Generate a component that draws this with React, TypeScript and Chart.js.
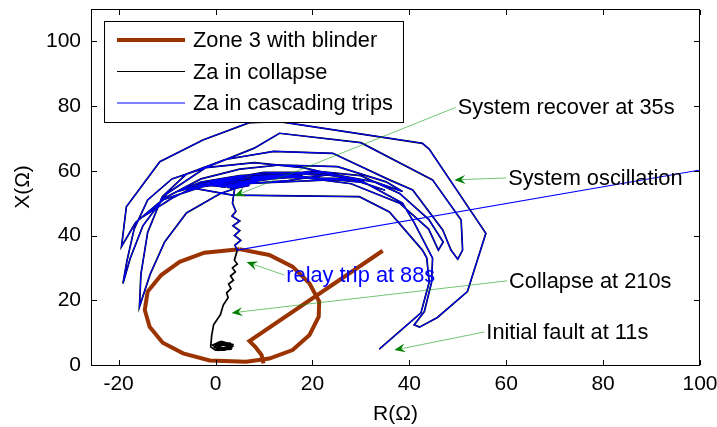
import React, { useEffect, useRef } from "react";
import { Chart, registerables } from "chart.js";

Chart.register(...registerables);

const FONT = '"Liberation Sans", Arial, Helvetica, sans-serif';
const BROWN = "#9a3300";
const BLUE = "#0000ff";
const GREEN = "#008000";

// axes
const xRange = [-25.7, 100];
const yRange = [0, 110];
const xTicks = [-20, 0, 20, 40, 60, 80, 100];
const yTicks = [0, 20, 40, 60, 80, 100];
const xTitle = "R(Ω)";
const yTitle = "X(Ω)";

// Zone 3 mho characteristic (polygon vertices) and blinder
const zoneCircle: number[][] = [
  [4.9, 35.8], [11.1, 34.0], [15.9, 30.4], [19.4, 25.2], [21.4, 19.6], [21.3, 14.9],
  [19.4, 9.3], [15.9, 4.6], [11.1, 2.0], [6.3, 1.0], [-1.2, 1.4], [-6.7, 3.6],
  [-10.9, 6.9], [-13.6, 11.8], [-14.6, 17.0], [-14.0, 22.7], [-11.2, 27.8],
  [-7.4, 31.9], [-2.3, 34.7], [4.9, 35.8],
];
const zoneBlinder: number[][] = [
  [34.5, 35.3], [7.0, 7.4], [8.2, 5.6], [9.5, 3.1], [9.9, 0.5],
];

// impedance trajectory shared by both cases
const swingFirst: number[][] = [
  [33.8, 4.9], [42.4, 16.1], [44.1, 25.6], [43.6, 33.1], [42.7, 35.5], [35.9, 47.3],
  [29.7, 52.0], [3.5, 52.5], [-4, 54.5], [-11, 51], [-16.5, 44], [-19.4, 36.6],
];
const swingOuter: number[][] = [
  [-18.4, 48.9], [-11.5, 62.8], [-2.6, 69.5], [7.0, 74.9], [13.2, 75.2], [42.7, 68.5],
  [44.1, 66.7], [55.8, 40.7], [52.0, 22.7], [45.8, 14.7], [42.1, 11.7], [41.0, 12.4],
  [43.1, 16.5], [44.6, 25.6], [44.8, 33.0],
];
const swingSecond: number[][] = [
  [41.0, 44], [38.6, 50], [30, 57], [18, 61], [8, 62.5], [-2, 61], [-9, 57.5],
  [-14, 51], [-16.8, 42], [-18.3, 32], [-19.1, 25.2],
  [-17.6, 33], [-15, 43], [-10, 53], [-2, 61], [8, 67], [13.2, 71.6], [30.0, 68.7],
  [44.8, 57.2], [50.7, 44.8], [51.0, 35.5], [50.0, 32.7],
];
const swingThird: number[][] = [
  [48.6, 35.5], [46.9, 41.7], [40.7, 54.1], [35.9, 57.2], [24.2, 65.4], [12, 66],
  [2, 63.5], [-6, 59], [-11, 52], [-14, 41], [-15.4, 28], [-15.7, 18.0],
  [-13.5, 28], [-10.5, 38], [-6, 47], [1, 53], [10, 57.5], [20, 60], [30, 58.5],
  [38, 53], [44, 45], [47, 38], [46, 35.5],
];
const swingFourth: number[][] = [
  [44, 42], [38, 50], [28, 56], [15, 58.5], [5, 58], [-3, 56], [-9, 51.5], [-15, 45.8],
  [-10, 52], [-3, 57.5], [5, 60.5], [13.2, 61.8], [25.2, 61.3], [35.2, 56.6], [38.6, 53.6],
  [33, 56.5], [22, 59.5], [10, 59.5], [0, 57], [-7.8, 53.6],
  [-3, 56.5], [5, 58.5], [15, 59.5], [22, 58.5], [15, 57], [6, 56],
];
const swingDecay: number[][] = [
  [28, 57.5], [35, 54], [30, 56.5], [18, 58.2], [8, 57.2], [-2, 55.5], [-6, 53.5],
  [-2, 56], [8, 58.3], [20, 59.4], [30, 57.2], [26, 57.6], [14, 58], [4, 56.5], [-3, 55],
  [0, 56.2], [9, 58], [18, 58.8], [12, 57.6], [4, 56], [0, 55.3],
];
const recoveryCluster: number[][] = [
  [2, 55], [8, 57.5], [14, 58.5], [8, 57], [2, 55.5], [-2, 56], [3, 55], [10, 58],
  [16, 59], [10, 57.3], [4, 55.5], [1, 55], [5, 55.7], [12, 58.2], [6, 56.2], [3, 55],
  [7, 56.8], [5, 56.2], [2, 55.2], [6, 56.5], [4, 55.4], [2.5, 54.8], [6.5, 56],
  [3.5, 55], [5.5, 55.8], [3, 54.6], [6, 55.5], [4, 54.6], [7, 55.5], [4, 54.8], [3.8, 53],
];
const slowDrift: number[][] = [
  [3.5, 50], [4.2, 47.5], [3.4, 46], [5.0, 44.5], [3.6, 43], [5.0, 41.5], [3.9, 40],
  [5.2, 38.5], [4.0, 37], [4.5, 35.5],
];
// black only: voltage collapse
const collapseTail: number[][] = [
  [3.9, 32.4], [4.5, 31.2], [3.5, 30], [4.1, 28.8], [3.1, 27.5], [3.7, 26.2], [2.7, 25],
  [3.2, 23.6], [2.3, 22.3], [2.6, 20.8], [1.6, 18.5], [1.0, 15.5], [-0.4, 12.4],
  [-0.8, 9], [-1.0, 5.6], [0, 4.6], [3.2, 4.9], [3.6, 6.3], [1.2, 7.3], [-0.6, 6.2],
  [0.6, 4.5], [3.3, 5.2], [3.0, 6.8], [0.4, 6.9], [-0.2, 5.4], [2, 4.6], [3.5, 5.8],
  [1.6, 7.0], [0.0, 6.4], [0.8, 4.9], [3.0, 5.4], [2.4, 6.6], [0.5, 6.2], [1.2, 5.1],
  [2.8, 5.7], [1.8, 6.5], [0.6, 5.7], [1.8, 5.2], [2.4, 6.0], [1.4, 6.1],
];
// blue only: relay trip
const relayTripJump: number[][] = [[4.5, 35.5], [104, 61.3]];

const sharedPath = [
  ...swingFirst, ...swingOuter, ...swingSecond, ...swingThird, ...swingFourth,
  ...swingDecay, ...recoveryCluster, ...slowDrift,
];

const legendItems = [
  { label: "Zone 3 with blinder", color: BROWN, width: 4 },
  { label: "Za in collapse", color: "#000000", width: 1 },
  { label: "Za in cascading trips", color: BLUE, width: 1 },
];

// annotations: text anchor (left-middle) and arrow tip, in data units
const notes = [
  { text: "System recover at 35s", color: "#000", tx: 50.0, ty: 79.6, ax: 3.9, ay: 52.2 },
  { text: "System oscillation", color: "#000", tx: 60.4, ty: 57.8, ax: 49.3, ay: 57.2 },
  { text: "relay trip at 88s", color: BLUE, tx: 14.6, ty: 27.8, ax: 6.4, ay: 31.8 },
  { text: "Collapse at 210s", color: "#000", tx: 60.6, ty: 26.0, ax: 3.3, ay: 16.1 },
  { text: "Initial fault at 11s", color: "#000", tx: 55.9, ty: 10.2, ax: 36.9, ay: 4.6 },
];

const toPts = (arr: number[][]) => arr.map(([x, y]) => ({ x, y }));

const decorPlugin = {
  id: "decor",
  afterDatasetsDraw(chart: any) {
    const ctx = chart.ctx;
    const { left, right, top, bottom } = chart.chartArea;
    const xs = chart.scales.x;
    const ys = chart.scales.y;
    ctx.save();
    // frame
    ctx.fillStyle = "#000";
    const L0 = Math.round(left);
    const R0 = Math.round(right) - 1;
    const T0 = Math.round(top);
    const B0 = Math.round(bottom);
    ctx.fillRect(L0, T0, R0 - L0 + 1, 1);
    ctx.fillRect(L0, B0, R0 - L0 + 1, 1);
    ctx.fillRect(L0, T0, 1, B0 - T0 + 1);
    ctx.fillRect(R0, T0, 1, B0 - T0 + 1);
    // inward ticks
    const tl = 5;
    xTicks.forEach((v) => {
      const px = Math.round(xs.getPixelForValue(v));
      ctx.fillRect(px, B0 - tl, 1, tl);
      ctx.fillRect(px, T0 + 1, 1, tl);
    });
    yTicks.forEach((v) => {
      const py = Math.round(ys.getPixelForValue(v));
      ctx.fillRect(L0 + 1, py, tl, 1);
      ctx.fillRect(R0 - tl, py, tl, 1);
    });

    // axis titles
    ctx.fillStyle = "#000";
    ctx.font = `21px ${FONT}`;
    ctx.textAlign = "center";
    ctx.textBaseline = "middle";
    ctx.fillText(xTitle, (left + right) / 2, 414);
    ctx.save();
    ctx.translate(23, (top + bottom) / 2);
    ctx.rotate(-Math.PI / 2);
    ctx.fillText(yTitle, 0, 0);
    ctx.restore();

    // annotations
    ctx.font = `21.8px ${FONT}`;
    ctx.textAlign = "left";
    notes.forEach((n) => {
      const sx = xs.getPixelForValue(n.tx);
      const sy = ys.getPixelForValue(n.ty);
      const tx = xs.getPixelForValue(n.ax);
      const ty = ys.getPixelForValue(n.ay);
      const lx = sx - 2;
      const dx = tx - lx;
      const dy = ty - sy;
      const len = Math.hypot(dx, dy);
      const ux = dx / len;
      const uy = dy / len;
      const nx = -uy;
      const ny = ux;
      const L = 11;
      const W = 4.5;
      ctx.strokeStyle = "rgba(0,150,0,0.55)";
      ctx.lineWidth = 1;
      ctx.beginPath();
      ctx.moveTo(lx, sy);
      ctx.lineTo(tx - ux * (L - 4), ty - uy * (L - 4));
      ctx.stroke();
      ctx.fillStyle = GREEN;
      ctx.beginPath();
      ctx.moveTo(tx, ty);
      ctx.lineTo(tx - ux * L + nx * W, ty - uy * L + ny * W);
      ctx.lineTo(tx - ux * (L - 4), ty - uy * (L - 4));
      ctx.lineTo(tx - ux * L - nx * W, ty - uy * L - ny * W);
      ctx.closePath();
      ctx.fill();
      ctx.fillStyle = n.color;
      ctx.textBaseline = "middle";
      ctx.fillText(n.text, sx, sy + 1);
    });

    // legend
    const bx = Math.round(left) + 13;
    const by = Math.round(top) + 12;
    const bw = 299;
    const bh = 101;
    ctx.fillStyle = "#fff";
    ctx.fillRect(bx, by, bw, bh);
    ctx.strokeStyle = "#000";
    ctx.lineWidth = 1;
    ctx.strokeRect(bx + 0.5, by + 0.5, bw, bh);
    ctx.font = `21.8px ${FONT}`;
    ctx.textBaseline = "middle";
    legendItems.forEach((it, i) => {
      const cy = by + 19 + i * 31.5;
      ctx.strokeStyle = it.color;
      ctx.lineWidth = it.width;
      ctx.beginPath();
      ctx.moveTo(bx + 13, cy);
      ctx.lineTo(bx + 81, cy);
      ctx.stroke();
      ctx.fillStyle = "#000";
      ctx.fillText(it.label, bx + 89, cy + 1);
    });
    ctx.restore();
  },
};

export default function App() {
  const ref = useRef<HTMLCanvasElement | null>(null);
  useEffect(() => {
    if (!ref.current) return;
    const line = (data: number[][], color: string, width: number, order: number) => ({
      data: toPts(data),
      showLine: true,
      borderColor: color,
      backgroundColor: color,
      borderWidth: width,
      pointRadius: 0,
      fill: false,
      tension: 0,
      order,
    });
    const chart = new Chart(ref.current, {
      type: "scatter",
      data: {
        datasets: [
          { label: "Za in cascading trips", ...line([...sharedPath, ...relayTripJump], BLUE, 1.1, 0) },
          { label: "Za in collapse", ...line([...sharedPath, ...collapseTail], "#000000", 1.7, 1) },
          { label: "Zone 3 with blinder", ...line(zoneCircle, BROWN, 4, 2) },
          { label: "Zone 3 blinder", ...line(zoneBlinder, BROWN, 4, 2) },
        ],
      },
      options: {
        responsive: false,
        animation: false,
        events: [],
        layout: { padding: { top: 9, right: 17, left: 0, bottom: 0 } },
        plugins: { legend: { display: false }, tooltip: { enabled: false } },
        scales: {
          x: {
            type: "linear",
            min: xRange[0],
            max: xRange[1],
            grid: { display: false, drawTicks: false },
            border: { display: false },
            ticks: {
              color: "#000",
              font: { family: FONT, size: 21 },
              padding: 7,
              autoSkip: false,
              maxRotation: 0,
              callback: (v: any) => String(v),
            },
            afterBuildTicks: (s: any) => {
              s.ticks = xTicks.map((v) => ({ value: v }));
            },
            afterFit: (s: any) => {
              s.height = 62;
              s.paddingLeft = 0;
              s.paddingRight = 0;
            },
          },
          y: {
            type: "linear",
            min: yRange[0],
            max: yRange[1],
            grid: { display: false, drawTicks: false },
            border: { display: false },
            ticks: {
              color: "#000",
              font: { family: FONT, size: 21 },
              padding: 10,
              autoSkip: false,
              callback: (v: any) => String(v),
            },
            afterBuildTicks: (s: any) => {
              s.ticks = yTicks.map((v) => ({ value: v }));
            },
            afterFit: (s: any) => {
              s.width = 91;
              s.paddingTop = 0;
              s.paddingBottom = 0;
            },
          },
        },
      },
      plugins: [decorPlugin],
    } as any);
    return () => chart.destroy();
  }, []);
  return (
    <div style={{ position: "fixed", left: 0, top: 0, width: 717, height: 427, background: "#fff" }}>
      <canvas ref={ref} width={717} height={427} style={{ width: 717, height: 427 }} />
    </div>
  );
}
